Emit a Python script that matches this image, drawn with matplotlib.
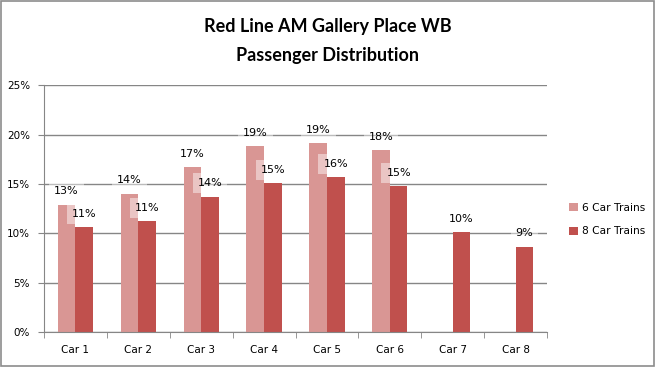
import numpy as np
import matplotlib
matplotlib.use('Agg')
import matplotlib.pyplot as plt
from matplotlib.ticker import FuncFormatter

# --- DATA ---
cars = ['Car 1', 'Car 2', 'Car 3', 'Car 4', 'Car 5', 'Car 6', 'Car 7', 'Car 8']
six_car = [12.9, 14.0, 16.7, 18.85, 19.1, 18.45, np.nan, np.nan]
eight_car = [10.6, 11.25, 13.7, 15.1, 15.7, 14.8, 10.15, 8.65]
series_names = ['6 Car Trains', '8 Car Trains']
y_ticks = [0, 5, 10, 15, 20, 25]

# --- COLOURS ---
PINK = '#D99694'
RED = '#C0504D'
GRID = '#868686'

fig = plt.figure(figsize=(6.56, 3.67), dpi=100)
ax = fig.add_axes([0.067, 0.095, 0.767, 0.673])

x = np.arange(len(cars))
w = 0.28

b1 = ax.bar(x - w / 2, six_car, w, color=PINK, label=series_names[0], zorder=2)
b2 = ax.bar(x + w / 2, eight_car, w, color=RED, label=series_names[1], zorder=2)

# data labels with semi-transparent white box
for bars, vals in [(b1, six_car), (b2, eight_car)]:
    for rect, v in zip(bars, vals):
        if np.isnan(v):
            continue
        ax.annotate(f'{v:.0f}%', (rect.get_x() + rect.get_width() / 2, v),
                    xytext=(0, 6), textcoords='offset points',
                    ha='center', va='bottom', fontsize=8, color='black',
                    bbox=dict(boxstyle='square,pad=0.45', fc='white', ec='none', alpha=0.45),
                    zorder=3)

ax.set_xlim(-0.5, len(cars) - 0.5)
ax.set_ylim(0, 25)
ax.set_yticks(y_ticks)
ax.yaxis.set_major_formatter(FuncFormatter(lambda v, p: f'{v:.0f}%'))
ax.set_xticks(x)
ax.set_xticklabels(cars)
ax.set_xticks(np.arange(-0.5, len(cars)), minor=True)
ax.tick_params(axis='x', which='major', length=0, pad=9, labelsize=7.5)
ax.tick_params(axis='x', which='minor', length=4, color=GRID, direction='out')
ax.tick_params(axis='y', length=4, color=GRID, labelsize=7.5, pad=6)

ax.grid(axis='y', color=GRID, linewidth=1, zorder=0)
ax.set_axisbelow(True)
for side in ['top', 'right']:
    ax.spines[side].set_visible(False)
ax.spines['left'].set_color(GRID)
ax.spines['bottom'].set_color(GRID)

leg = fig.legend(handles=[b1, b2], loc='center left', bbox_to_anchor=(0.853, 0.402),
                 frameon=False, fontsize=7.7, handlelength=0.8, handleheight=0.8,
                 handletextpad=0.4, labelspacing=1.3)

fig.text(0.5, 0.928, 'Red Line AM Gallery Place WB', ha='center', va='center',
         fontsize=13, fontweight='bold', family='Lato')
fig.text(0.5, 0.848, 'Passenger Distribution', ha='center', va='center',
         fontsize=13, fontweight='bold', family='Lato')

# chart border
fig.patches.append(plt.Rectangle((0.001, 0.002), 0.996, 0.995, transform=fig.transFigure,
                                 fill=False, ec='#8c8c8c', lw=1.2))

fig.savefig('out.png', dpi=100)
